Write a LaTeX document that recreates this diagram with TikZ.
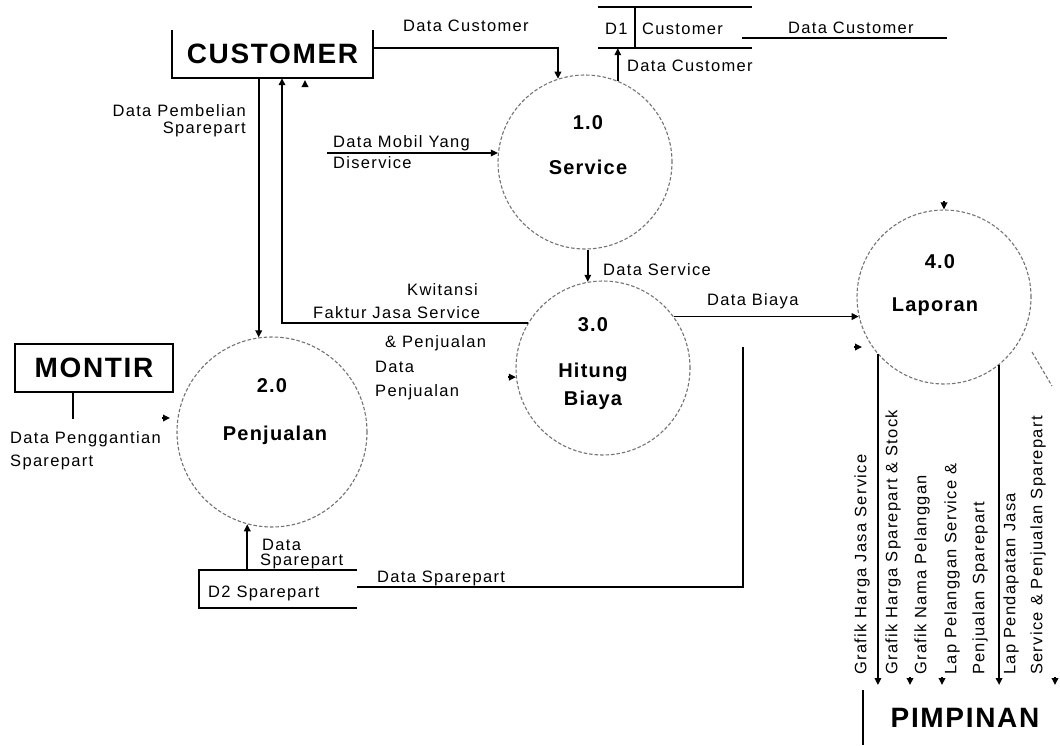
\documentclass[tikz,border=0pt]{standalone}
\usepackage{fontspec}
\setmainfont{Liberation Sans}
\newfontfamily\lblfont{Liberation Sans}[LetterSpace=8]
\newfontfamily\entfont{Liberation Sans}[LetterSpace=6]
\usetikzlibrary{arrows.meta}
\begin{document}
\begin{tikzpicture}[x=1pt,y=-1pt,
  ln/.style={line width=1.7pt, draw=black},
  arr/.style={ln, -{Triangle[length=7pt,width=6.5pt]}},
  proc/.style={circle, draw=black!55, line width=1.1pt, dash pattern=on 3.5pt off 2pt, inner sep=0pt},
  ptxt/.style={font=\entfont\fontsize{20}{22}\selectfont\bfseries, inner sep=0pt},
  etxt/.style={font=\entfont\fontsize{28}{30}\selectfont\bfseries, inner sep=0pt},
  lbl/.style={font=\lblfont\fontsize{16.5}{18}\selectfont, inner sep=0pt, anchor=base west},
  lblr/.style={lbl, anchor=base east},
  vlbl/.style={font=\lblfont\fontsize{16.5}{18}\selectfont, inner sep=0pt, rotate=90, anchor=west},
]
\useasboundingbox (0,0) rectangle (1060,745);

% entities
\node[etxt, minimum width=201pt, minimum height=48pt] (cust) at (272.5,54) {CUSTOMER};
\draw[ln] (cust.north west) -- (cust.south west) -- (cust.south east) -- (cust.north east);
\node[etxt, draw, line width=1.7pt, minimum width=158pt, minimum height=48pt] (montir) at (94,368) {MONTIR};
\node[etxt] (pim) at (965,718) {PIMPINAN};
\coordinate (pimA) at (863,690);
\coordinate (pimB) at (863,745);
\draw[ln] (pimA) -- (pimB);

% data stores
\node[minimum width=154pt, minimum height=41pt, inner sep=0pt] (d1) at (675,27.5) {};
\draw[ln] (d1.north west) -- (d1.north east);
\draw[ln] (d1.south west) -- (d1.south east);
\draw[ln] ([xshift=37pt]d1.north west) -- ([xshift=37pt]d1.south west);
\node[lbl] (d1a) at (605,34) {D1};
\node[lbl] (d1b) at (642,34) {Customer};

\node[minimum width=158pt, minimum height=38pt, inner sep=0pt] (d2) at (278,589) {};
\draw[ln] (d2.north east) -- (d2.north west) -- (d2.south west) -- (d2.south east);
\node[lbl] (d2a) at (208,597) {D2 Sparepart};

% processes
\node[proc, minimum size=174pt] (p1) at (585,162) {};
\node[proc, minimum size=190pt] (p2) at (272,432) {};
\node[proc, minimum size=174pt] (p3) at (603,368) {};
\node[proc, minimum size=174pt] (p4) at (944,297) {};
\node[ptxt] (p1n) at (588,123) {1.0};
\node[ptxt] (p1t) at (588,167) {Service};
\node[ptxt] (p2n) at (272,386) {2.0};
\node[ptxt] (p2t) at (275,435) {Penjualan};
\node[ptxt] (p3n) at (593,325) {3.0};
\node[ptxt] (p3t) at (593,372) {Hitung};
\node[ptxt] (p3u) at (593,400) {Biaya};
\node[ptxt] (p4n) at (940,262) {4.0};
\node[ptxt] (p4t) at (935,307) {Laporan};

% connectors
\draw[arr] ([yshift=6pt]cust.east) -| (p1.108);
\draw[arr] (p1.68) -- (p1.68 |- d1.south);
\coordinate (dcL) at (742,38);
\coordinate (dcR) at (947,38);
\draw[ln] (dcL) -- (dcR);
\draw[arr] (p2.98.5 |- cust.south) -- (p2.98.5);
\draw[arr] (p3.149) -| ([xshift=9.5pt]cust.south);
\coordinate (stray1) at (305,86);
\draw[arr] (stray1) -- ++(0,-6);
\coordinate (dm) at (327,153);
\draw[arr] (dm) -- (dm -| p1.174);
\draw[arr] (p3.100 |- p1.south) -- (p3.100);
\draw[arr] (p3.36) -- (p3.36 -| p4.193);
\draw[arr] ([xshift=-8pt]p3.186) -- (p3.186);
\draw[ln] ([xshift=-21pt]montir.south) -- ++(0,26);
\coordinate (mt) at (170,418);
\draw[arr] ([xshift=-8pt]mt) -- (mt);
\draw[arr] (p2.255 |- d2.north) -- (p2.255);
\coordinate (dsR) at (743,347);
\draw[ln] ([yshift=2pt]d2.east) -| (dsR);
\coordinate (st2) at (862,347);
\draw[arr] ([xshift=-8pt]st2) -- (st2);
\draw[arr] ([yshift=8pt]p4.north) -- (p4.north);
\coordinate (tips) at (900,685);
\draw[arr] (p4.221) -- (p4.221 |- tips);
\draw[arr] (p4.-51) -- (p4.-51 |- tips);
\coordinate (t2) at (910,685);
\coordinate (t3) at (942,685);
\coordinate (t5) at (1055,685);
\draw[arr] ([yshift=8pt]t2) -- (t2);
\draw[arr] ([yshift=8pt]t3) -- (t3);
\draw[arr] ([yshift=8pt]t5) -- (t5);
\coordinate (fragA) at (1032,352);
\coordinate (fragB) at (1052,386);
\draw[draw=black!55, line width=1.1pt, dash pattern=on 3.5pt off 2pt] (fragA) -- (fragB);

% labels
\node[lbl] (l1) at (403,31) {Data Customer};
\node[lbl] (l2) at (627,71) {Data Customer};
\node[lbl] (l3) at (788,33) {Data Customer};
\node[lblr] (l4a) at (246,116) {Data Pembelian};
\node[lblr] (l4b) at (246,133) {Sparepart};
\node[lbl] (l5a) at (333,147) {Data Mobil Yang};
\node[lbl] (l5b) at (333,168) {Diservice};
\node[lbl] (l6a) at (407,295) {Kwitansi};
\node[lbl] (l6b) at (313,318) {Faktur Jasa Service};
\node[lbl] (l6c) at (385,347) {\& Penjualan};
\node[lbl] (l7a) at (375,372) {Data};
\node[lbl] (l7b) at (375,396) {Penjualan};
\node[lbl] (l8) at (603,275) {Data Service};
\node[lbl] (l9) at (707,305) {Data Biaya};
\node[lbl] (l10a) at (10,443) {Data Penggantian};
\node[lbl] (l10b) at (10,466) {Sparepart};
\node[lbl] (l11a) at (262,550) {Data};
\node[lbl] (l11b) at (260,565) {Sparepart};
\node[lbl] (l12) at (377,582) {Data Sparepart};

% vertical labels
\node[vlbl] (v1) at (862,675) {Grafik Harga Jasa Service};
\node[vlbl] (v2) at (893,675) {Grafik Harga Sparepart \& Stock};
\node[vlbl] (v3) at (922,675) {Grafik Nama Pelanggan};
\node[vlbl] (v4a) at (952,675) {Lap Pelanggan Service \&};
\node[vlbl] (v4b) at (980,675) {Penjualan Sparepart};
\node[vlbl] (v5a) at (1011,675) {Lap Pendapatan Jasa};
\node[vlbl] (v5b) at (1038,675) {Service \& Penjualan Sparepart};
\end{tikzpicture}
\end{document}
